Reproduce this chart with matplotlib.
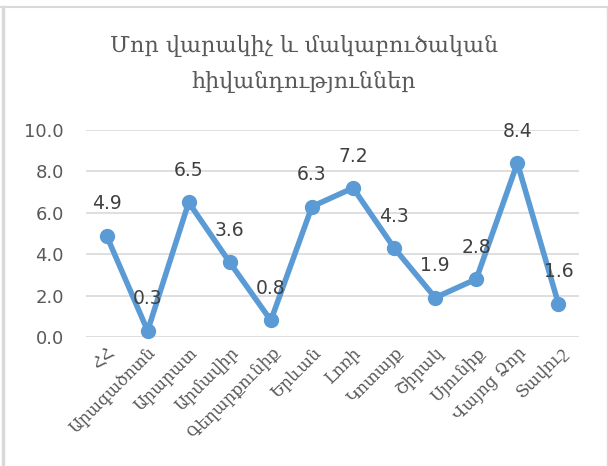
import matplotlib
matplotlib.use("Agg")
import matplotlib.pyplot as plt
from matplotlib.lines import Line2D

regions = ["ՀՀ", "Արագածոտն", "Արարատ", "Արմավիր", "Գեղարքունիք", "Երևան",
           "Լոռի", "Կոտայք", "Շիրակ", "Սյունիք", "Վայոց Ձոր", "Տավուշ"]
values = [4.9, 0.3, 6.5, 3.6, 0.8, 6.3, 7.2, 4.3, 1.9, 2.8, 8.4, 1.6]
yticks = [0, 2, 4, 6, 8, 10]
title = "Մոր վարակիչ և մակաբուծական\nհիվանդություններ"

W, H = 608, 466
fig = plt.figure(figsize=(W / 100, H / 100), dpi=100)
ax = fig.add_axes([86 / W, 1 - 337 / H, (579 - 86) / W, (337 - 130) / H])

blue = "#5B9BD5"
grey = "#595959"

xs = list(range(len(regions)))
ax.plot(xs, values, color=blue, linewidth=4, marker="o", markersize=10,
        solid_joinstyle="round", zorder=3, clip_on=False)

for x, v in zip(xs, values):
    ax.annotate(f"{v:.1f}", (x, v), xytext=(0, 23), textcoords="offset points",
                ha="center", va="center", fontsize=13.5, color="#404040", zorder=4)

ax.set_xlim(-0.5, len(regions) - 0.5)
ax.set_ylim(0, 10)
ax.set_yticks(yticks)
ax.set_yticklabels([f"{t:.1f}" for t in yticks], fontsize=13, color=grey)
ax.set_xticks(xs)
ax.set_xticklabels(regions, rotation=45, ha="right", va="top",
                   rotation_mode="anchor", fontsize=12, color=grey,
                   family="DejaVu Serif")
ax.tick_params(length=0, axis="both")
ax.tick_params(axis="y", pad=16)
ax.tick_params(axis="x", pad=5)
ax.grid(axis="y", color="#D9D9D9", linewidth=1.2)
ax.set_axisbelow(True)
for s in ax.spines.values():
    s.set_visible(False)

fig.text(0.5, 1 - 64 / H, title, ha="center", va="center", fontsize=16,
         color=grey, family="DejaVu Serif", linespacing=1.8)

# chart border
fig.add_artist(Line2D([0, 1], [1 - 6.5 / H] * 2, color="#D9D9D9", linewidth=1.5))
fig.add_artist(Line2D([2.5 / W] * 2, [0, 1 - 6.5 / H], color="#D9D9D9", linewidth=2.5))
fig.add_artist(Line2D([606.5 / W] * 2, [0, 1 - 6.5 / H], color="#D9D9D9", linewidth=1))

fig.savefig("out.png", dpi=100, facecolor="white")
